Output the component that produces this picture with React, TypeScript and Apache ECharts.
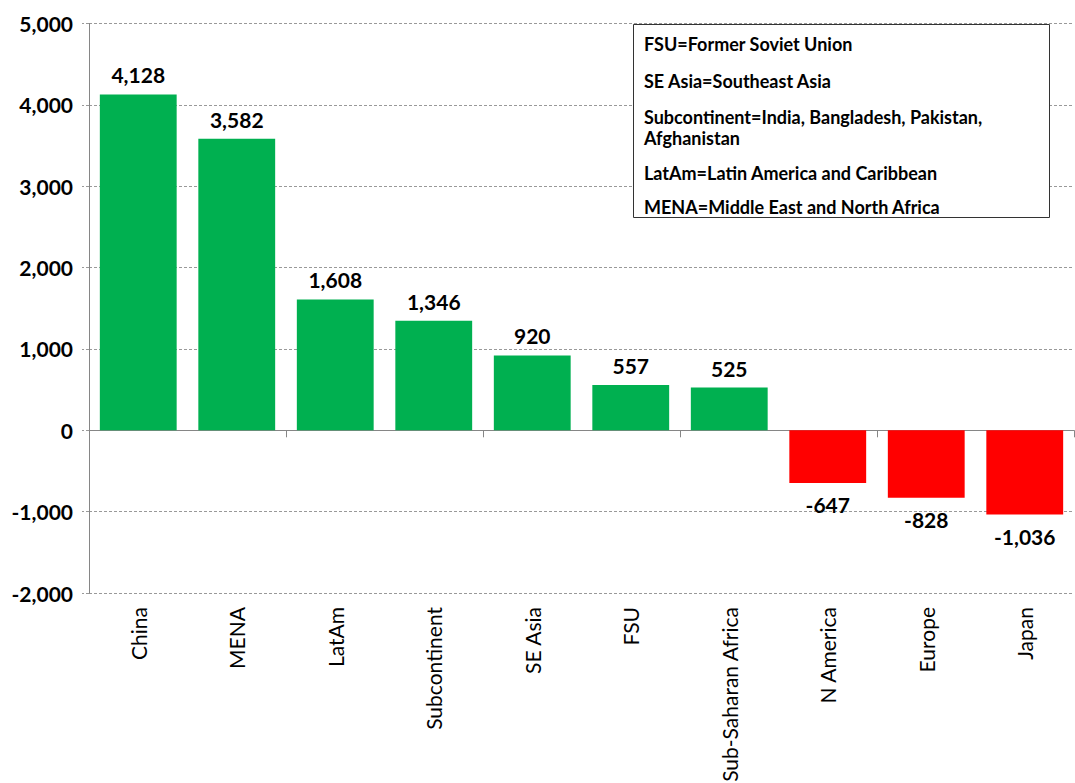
import React, { useEffect, useRef } from "react";
import * as echarts from "echarts";

const categories = ["China", "MENA", "LatAm", "Subcontinent", "SE Asia", "FSU", "Sub-Saharan Africa", "N America", "Europe", "Japan"];
const values = [4128, 3582, 1608, 1346, 920, 557, 525, -647, -828, -1036];
const legendLines = [
  "FSU=Former Soviet Union",
  "SE Asia=Southeast Asia",
  "Subcontinent=India, Bangladesh, Pakistan,",
  "Afghanistan",
  "LatAm=Latin America and Caribbean",
  "MENA=Middle East and North Africa",
];
const legendLineY = [44, 81, 117, 138, 173, 207];

const FONT = "Lato, 'Noto Sans', sans-serif";
const GREEN = "#00B050";
const RED = "#FF0000";

export default function App() {
  const ref = useRef<HTMLDivElement>(null);
  useEffect(() => {
    document.body.style.margin = "0";
    const chart = echarts.init(ref.current!, null, { renderer: "svg" });
    const fmt = (v: number) => v.toLocaleString("en-US");
    chart.setOption({
      animation: false,
      backgroundColor: "#fff",
      grid: { left: 89, right: 1, top: 23.5, bottom: 190, containLabel: false, outerBoundsMode: "none" },
      xAxis: [
        {
          type: "category",
          data: categories,
          position: "bottom",
          axisLine: { show: false, onZero: false },
          axisTick: { show: false },
          axisLabel: {
            rotate: 90,
            interval: 0,
            margin: 14,
            color: "#000",
            fontFamily: FONT,
            fontSize: 21,
          },
        },
        {
          type: "category",
          data: categories,
          position: "bottom",
          axisLine: { show: true, onZero: true, lineStyle: { color: "#868686", width: 1 } },
          axisTick: { show: true, length: 7, lineStyle: { color: "#868686" } },
          axisLabel: { show: false },
        },
      ],
      yAxis: {
        type: "value",
        min: -2000,
        max: 5000,
        interval: 1000,
        axisLine: { show: true, lineStyle: { color: "#868686" } },
        axisTick: { show: true, length: 7, lineStyle: { color: "#999", type: [3, 2] } },
        splitLine: { show: true, lineStyle: { color: "#999", type: [3, 2], width: 1 } },
        axisLabel: {
          color: "#000",
          fontFamily: FONT,
          fontWeight: "bold",
          fontSize: 21,
          margin: 16,
          formatter: (v: number) => fmt(v),
        },
      },
      series: [
        {
          type: "bar",
          xAxisIndex: 0,
          barCategoryGap: "22%",
          data: values.map((v) => ({
            value: v,
            itemStyle: { color: v >= 0 ? GREEN : RED },
            label: { position: v >= 0 ? "top" : "bottom", distance: v >= 0 ? 9 : 11 },
          })),
          label: {
            show: true,
            color: "#000",
            fontFamily: FONT,
            fontWeight: "bold",
            fontSize: 21,
            formatter: (p: any) => fmt(p.value),
          },
        },
      ],
      graphic: [
        {
          type: "group",
          children: [
            {
              type: "rect",
              shape: { x: 633.5, y: 24.5, width: 416, height: 193 },
              style: { fill: "#fff", stroke: "#333", lineWidth: 1 },
              z: 10,
            },
            ...legendLines.map((t, i) => ({
              type: "text",
              x: 644,
              y: legendLineY[i],
              z: 11,
              style: {
                text: t,
                fill: "#000",
                font: `bold 18px ${FONT}`,
                textVerticalAlign: "middle",
                verticalAlign: "middle",
              },
            })),
          ],
        },
      ],
    });
    return () => chart.dispose();
  }, []);
  return <div ref={ref} style={{ width: 1075, height: 783 }} />;
}
